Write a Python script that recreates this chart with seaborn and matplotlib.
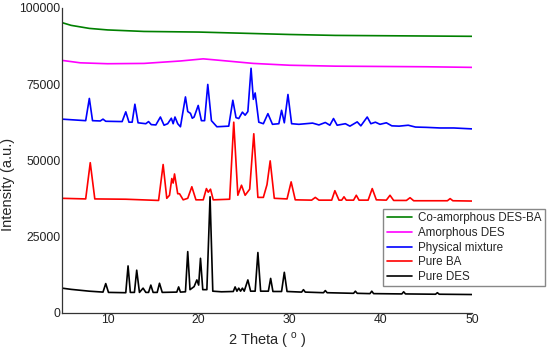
import matplotlib
matplotlib.use("Agg")
import matplotlib.pyplot as plt
import seaborn as sns
import pandas as pd

# Diffractogram traces (2 theta in degrees, intensity in a.u.)
des_x = [5.0, 6.0, 8.0, 9.5, 9.8, 10.1, 12.0, 12.25, 12.5, 12.95, 13.2, 13.5, 13.9, 14.2,
         14.5, 14.75, 15.0, 15.45, 15.7, 16.0, 17.6, 17.8, 18.0, 18.55, 18.8, 19.05, 19.5,
         19.8, 20.0, 20.2, 20.45, 20.9, 21.25, 21.55, 22.5, 23.8, 24.0, 24.2, 24.4, 24.6,
         24.8, 25.0, 25.4, 25.7, 26.2, 26.5, 26.8, 27.65, 27.9, 28.15, 29.1, 29.4, 29.7,
         31.3, 31.5, 31.7, 33.7, 33.9, 34.1, 37.0, 37.2, 37.4, 38.8, 39.0, 39.2, 42.3,
         42.5, 42.7, 46.0, 46.2, 46.4, 50.0]
des_y = [8000, 7600, 7000, 6700, 9500, 6600, 6500, 15300, 6600, 6600, 13900, 6600, 8000, 6600,
         6600, 9000, 6600, 6600, 9600, 6600, 6700, 8400, 6700, 6800, 20000, 7500, 8500,
         10700, 9000, 17800, 7500, 7500, 38000, 7000, 6800, 6900, 8400, 7000, 8000, 7000,
         8000, 7000, 10700, 7000, 7000, 19700, 7000, 7000, 11200, 6900, 6900, 13200, 6900,
         6700, 7500, 6700, 6500, 7200, 6500, 6300, 7000, 6300, 6200, 7000, 6200, 6100,
         6800, 6100, 6000, 6500, 6000, 5900]

ba_x = [5.0, 7.6, 8.1, 8.6, 12.0, 15.6, 16.1, 16.5, 16.8, 17.05, 17.2, 17.35, 17.7, 17.9,
        18.3, 18.8, 19.25, 19.7, 20.5, 20.85, 21.05, 21.3, 21.6, 23.4, 23.85, 24.3, 24.7,
        25.1, 25.6, 26.05, 26.5, 27.1, 27.5, 27.85, 28.3, 29.7, 30.15, 30.6, 32.4, 32.8,
        33.2, 34.6, 34.95, 35.4, 35.7, 35.95, 36.2, 37.0, 37.3, 37.6, 38.6, 39.05, 39.5,
        40.6, 41.0, 41.4, 42.8, 43.2, 43.6, 47.3, 47.6, 47.9, 50.0]
ba_y = [37500, 37300, 49200, 37300, 37200, 36800, 48600, 37500, 38500, 44000, 42500, 45500,
        39000, 39000, 37000, 37500, 41300, 37000, 37000, 40700, 39500, 40500, 37000, 37200,
        62500, 38500, 41800, 38500, 40500, 58700, 37800, 37800, 42000, 49800, 37500, 37300,
        42900, 37000, 36900, 37800, 36900, 36900, 40000, 36900, 36900, 38000, 36900, 36900,
        38500, 36900, 36900, 40700, 37000, 36900, 38500, 36800, 36800, 37700, 36700, 36700,
        37400, 36700, 36600]

mix_x = [5.0, 7.6, 8.0, 8.35, 9.2, 9.5, 9.8, 11.6, 12.0, 12.35, 12.7, 13.0, 13.35, 14.2,
         14.5, 14.8, 15.3, 15.8, 16.2, 16.6, 17.0, 17.2, 17.4, 17.7, 18.0, 18.55, 18.8,
         19.1, 19.3, 19.5, 19.95, 20.3, 20.65, 21.0, 21.4, 22.0, 23.3, 23.75, 24.1, 24.4,
         24.8, 25.1, 25.4, 25.75, 26.0, 26.2, 26.6, 27.1, 27.6, 28.1, 28.8, 29.1, 29.4,
         29.8, 30.2, 31.0, 32.5, 33.2, 33.9, 34.4, 34.8, 35.2, 36.1, 36.6, 37.4, 37.8,
         38.5, 38.9, 39.4, 39.9, 40.6, 41.2, 42.0, 43.0, 43.8, 45.0, 46.5, 48.0, 50.0]
mix_y = [63500, 63000, 70300, 63000, 62900, 63500, 62800, 62700, 65900, 62500, 62500, 68400,
         62300, 62000, 62700, 61700, 61600, 64200, 61500, 62000, 63800, 62000, 64200, 62000,
         61000, 70800, 66000, 65400, 63800, 64200, 68000, 63000, 63000, 74900, 63000, 61000,
         61200, 69700, 64000, 63700, 65800, 64800, 66000, 80200, 70000, 72100, 62500, 62000,
         65300, 61800, 62000, 66400, 62300, 71600, 62000, 61800, 62200, 61600, 62400, 61500,
         63700, 61500, 62000, 61200, 62600, 61300, 64200, 62000, 62500, 61800, 62300, 61300,
         61200, 61500, 60900, 60800, 60600, 60600, 60300]

amor_x = [5, 7, 10, 14, 18, 20.5, 22, 26, 30, 35, 40, 45, 50]
amor_y = [82800, 82000, 81700, 81800, 82600, 83300, 82900, 81800, 81200, 80900, 80800, 80700, 80500]

coam_x = [5, 6, 8, 10, 14, 20, 25, 30, 35, 40, 45, 50]
coam_y = [95200, 94300, 93300, 92800, 92300, 92100, 91700, 91300, 91000, 90900, 90800, 90700]

labels = ["Co-amorphous DES-BA", "Amorphous DES", "Physical mixture", "Pure BA", "Pure DES"]
colors = ["#008000", "#ff00ff", "#0000ff", "#ff0000", "#000000"]
traces = [(coam_x, coam_y), (amor_x, amor_y), (mix_x, mix_y), (ba_x, ba_y), (des_x, des_y)]

frames = []
for lab, (xs, ys) in zip(labels, traces):
    frames.append(pd.DataFrame({"theta": xs, "intensity": ys, "sample": lab}))
df = pd.concat(frames, ignore_index=True)

sns.set_style("white")
plt.rcParams["font.family"] = ["Liberation Sans", "DejaVu Sans"]
plt.rcParams["mathtext.fontset"] = "custom"
plt.rcParams["mathtext.rm"] = "Liberation Sans"

fig = plt.figure(figsize=(5.5, 3.57), dpi=100)
ax = fig.add_axes([62 / 550, 44.5 / 357, 410 / 550, 304.5 / 357])

sns.lineplot(data=df, x="theta", y="intensity", hue="sample", hue_order=labels,
             palette=dict(zip(labels, colors)), estimator=None, sort=False,
             linewidth=1.2, ax=ax, legend=False)

ax.set_xlim(5, 50)
ax.set_ylim(0, 100000)
ax.set_xticks([10, 20, 30, 40, 50])
ax.set_yticks([0, 25000, 50000, 75000, 100000])
ax.tick_params(axis="both", direction="in", length=3, width=0.8, pad=1.0,
               labelsize=8.7, colors="#222222")
sns.despine(ax=ax)
for side in ["left", "bottom"]:
    ax.spines[side].set_color("#333333")
    ax.spines[side].set_linewidth(0.9)

ax.set_xlabel("2 Theta ( $^\\mathrm{o}$ )", fontsize=10.5, labelpad=3)
ax.set_ylabel("Intensity (a.u.)", fontsize=10.5)
ax.yaxis.set_label_coords(-0.115, 0.42)

handles = [plt.Line2D([], [], color=c, linewidth=1.2) for c in colors]
fig.legend(handles, labels, loc="upper left", bbox_to_anchor=(383 / 550, 1 - 209 / 357),
           borderaxespad=0, fontsize=8.4, frameon=True, fancybox=False,
           edgecolor="#888888", framealpha=1, handlelength=2.2, handletextpad=0.5,
           labelspacing=0.22, borderpad=0.3)

fig.savefig("out.png", dpi=100)
